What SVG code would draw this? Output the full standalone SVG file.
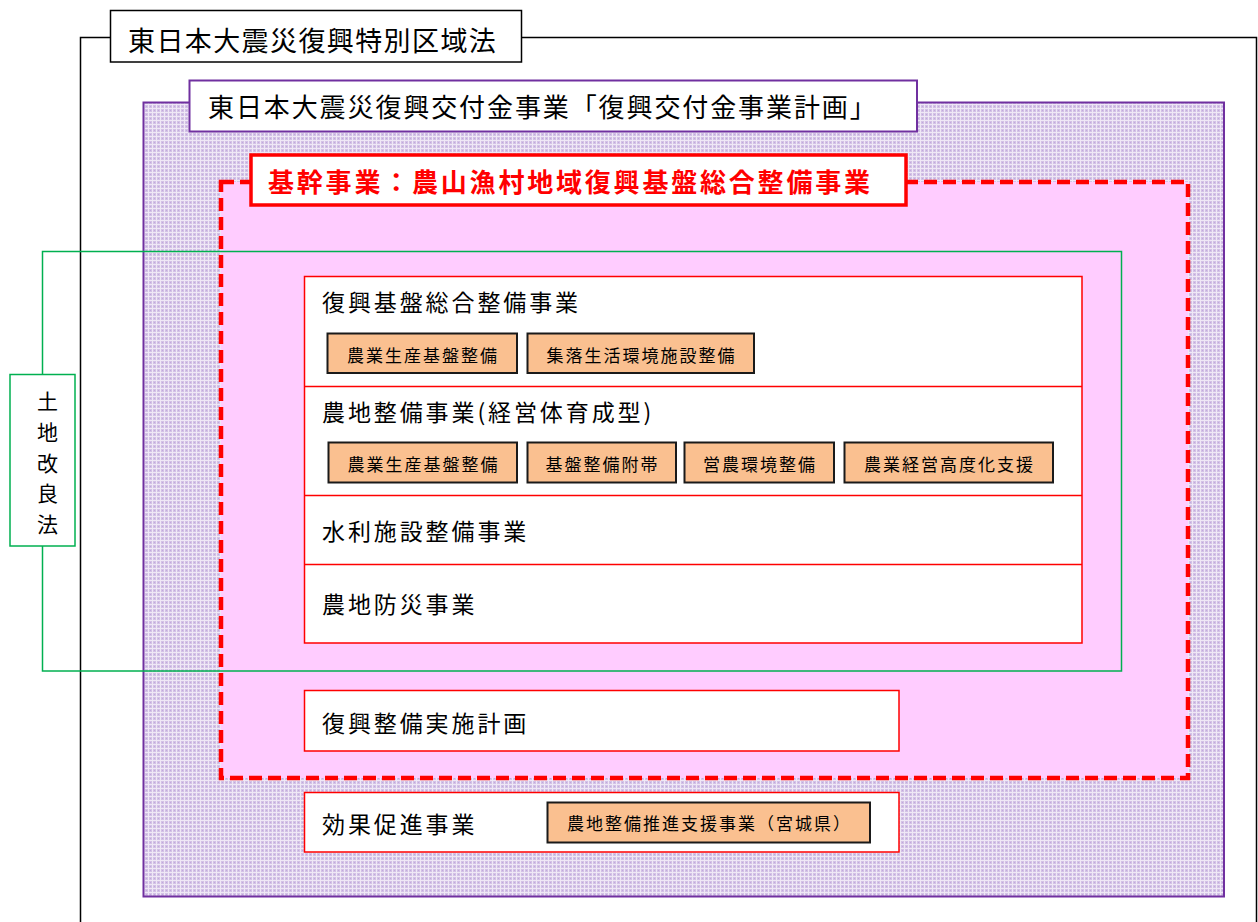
<svg xmlns="http://www.w3.org/2000/svg" width="1258" height="922" viewBox="0 0 1258 922">
<defs>
<pattern id="grid" width="4" height="4" patternUnits="userSpaceOnUse">
<rect width="4" height="4" fill="#d3c2e6"/>
<rect x="0" y="0" width="4" height="1" fill="#efe8f6"/>
<rect x="0" y="0" width="1" height="4" fill="#efe8f6"/>
<rect x="2" y="2" width="1" height="1" fill="#c1a9dc"/>
</pattern>
</defs>
<style>
text{font-family:"Noto Sans CJK JP","Noto Sans CJK SC",sans-serif;fill:#000}
.t1{font-size:27px;letter-spacing:1.4px}
.t2{font-size:26px;letter-spacing:1.9px}
.t3{font-size:26px;font-weight:bold;fill:#ff0000;letter-spacing:2.8px}
.sec{font-size:23px;letter-spacing:2.9px}
.sm{font-size:17px;letter-spacing:2px}
.vt{font-size:21px}
.ob{fill:#fac090;stroke:#1a1a1a;stroke-width:2}
.rb{fill:#fff;stroke:#ff0000;stroke-width:1.5}
.div{stroke:#ff0000;stroke-width:1.5}
</style>

<g id="frame-law">
<polyline points="110,37.5 80.5,37.5 80.5,922" fill="none" stroke="#000" stroke-width="1.5"/>
<polyline points="522,37.5 1256.5,37.5 1256.5,922" fill="none" stroke="#000" stroke-width="1.5"/>
</g>

<g id="frame-koufukin">
<rect x="143.5" y="102.5" width="1080.5" height="794" fill="url(#grid)" stroke="#7030a0" stroke-width="2"/>
</g>

<g id="frame-kikan">
<rect x="221" y="182" width="967" height="596" fill="#ffccff" stroke="#ff0000" stroke-width="4.5" stroke-dasharray="13 6"/>
</g>

<g id="frame-tochi">
<rect x="42.5" y="251.5" width="1079" height="419.5" fill="none" stroke="#00b050" stroke-width="1.5"/>
</g>

<g id="title-law">
<rect x="110.5" y="10.5" width="411" height="51.5" fill="#fff" stroke="#000" stroke-width="1.5"/>
<text class="t1" x="128" y="51">東日本大震災復興特別区域法</text>
</g>

<g id="title-koufukin">
<rect x="189.5" y="80.5" width="727.5" height="51" fill="#fff" stroke="#7030a0" stroke-width="2"/>
<text class="t2" x="208" y="117">東日本大震災復興交付金事業「復興交付金事業計画」</text>
</g>

<g id="title-kikan">
<rect x="251" y="155" width="655" height="50" fill="#fff" stroke="#ff0000" stroke-width="3.5"/>
<text class="t3" x="268" y="192">基幹事業：農山漁村地域復興基盤総合整備事業</text>
</g>

<g id="tochi-label">
<rect x="10" y="374.5" width="65" height="171.5" fill="#fff" stroke="#00b050" stroke-width="1.5"/>
<text class="vt" text-anchor="middle"><tspan x="47.5" y="409">土</tspan><tspan x="47.5" y="440">地</tspan><tspan x="47.5" y="470.5">改</tspan><tspan x="47.5" y="501">良</tspan><tspan x="47.5" y="531.5">法</tspan></text>
</g>

<g id="projects">
<rect class="rb" x="304.5" y="276.5" width="777.5" height="366.5"/>
<line class="div" x1="304.5" y1="386.5" x2="1082" y2="386.5"/>
<line class="div" x1="304.5" y1="495.5" x2="1082" y2="495.5"/>
<line class="div" x1="304.5" y1="564.5" x2="1082" y2="564.5"/>
</g>

<g id="fukkou-kiban">
<text class="sec" x="322" y="311">復興基盤総合整備事業</text>
<rect class="ob" x="327.5" y="333.5" width="189.5" height="39.5"/>
<text class="sm" x="423" y="361.5" text-anchor="middle">農業生産基盤整備</text>
<rect class="ob" x="527.5" y="333.5" width="226.5" height="39.5"/>
<text class="sm" x="641.5" y="361.5" text-anchor="middle">集落生活環境施設整備</text>
</g>

<g id="nouchi-seibi">
<text class="sec" x="322" y="421">農地整備事業(経営体育成型)</text>
<rect class="ob" x="328.5" y="442.5" width="188.5" height="40"/>
<text class="sm" x="423.5" y="470.5" text-anchor="middle">農業生産基盤整備</text>
<rect class="ob" x="527.5" y="442.5" width="148.5" height="40"/>
<text class="sm" x="602.5" y="470.5" text-anchor="middle">基盤整備附帯</text>
<rect class="ob" x="684.5" y="442.5" width="149.5" height="40"/>
<text class="sm" x="760" y="470.5" text-anchor="middle">営農環境整備</text>
<rect class="ob" x="844.5" y="442.5" width="208.5" height="40"/>
<text class="sm" x="949.5" y="470.5" text-anchor="middle">農業経営高度化支援</text>
</g>

<g id="suiri">
<text class="sec" x="322" y="539.5">水利施設整備事業</text>
</g>

<g id="bousai">
<text class="sec" x="322" y="612.5">農地防災事業</text>
</g>

<g id="jisshi-keikaku">
<rect class="rb" x="304.5" y="690.5" width="594.5" height="60.5"/>
<text class="sec" x="322" y="731.5">復興整備実施計画</text>
</g>

<g id="kouka-sokushin">
<rect class="rb" x="304.5" y="792.5" width="594.5" height="59.5"/>
<text class="sec" x="322" y="833">効果促進事業</text>
<rect class="ob" x="547.5" y="802.5" width="322.5" height="40"/>
<text class="sm" x="709.5" y="830" text-anchor="middle">農地整備推進支援事業（宮城県）</text>
</g>
</svg>
